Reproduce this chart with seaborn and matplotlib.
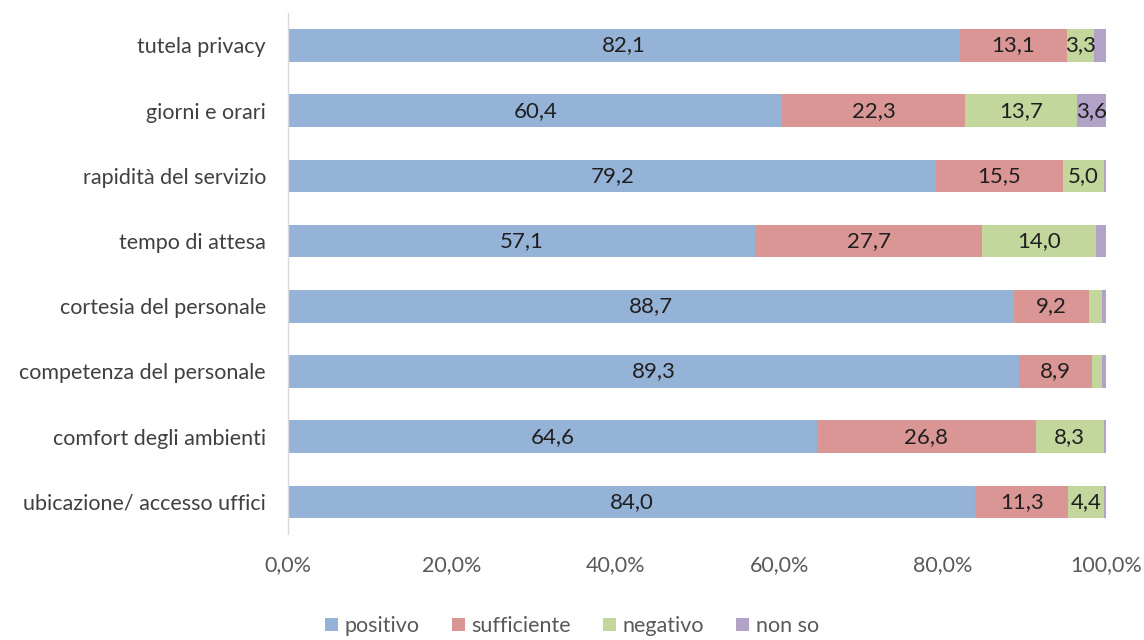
import numpy as np
import pandas as pd
import matplotlib
matplotlib.use("Agg")
import matplotlib.pyplot as plt
import seaborn as sns
from matplotlib.patches import Patch

categories = [
    "tutela privacy",
    "giorni e orari",
    "rapidità del servizio",
    "tempo di attesa",
    "cortesia del personale",
    "competenza del personale",
    "comfort degli ambienti",
    "ubicazione/ accesso uffici",
]
positivo = [82.1, 60.4, 79.2, 57.1, 88.7, 89.3, 64.6, 84.0]
sufficiente = [13.1, 22.3, 15.5, 27.7, 9.2, 8.9, 26.8, 11.3]
negativo = [3.3, 13.7, 5.0, 14.0, 1.6, 1.3, 8.3, 4.4]
non_so = [1.5, 3.6, 0.3, 1.2, 0.5, 0.5, 0.3, 0.3]

series_names = ["positivo", "sufficiente", "negativo", "non so"]
series_values = [positivo, sufficiente, negativo, non_so]
colors = ["#95B3D7", "#D99694", "#C3D69B", "#B3A2C7"]

sns.set_theme(style="white")
plt.rcParams["font.family"] = ["Lato", "DejaVu Sans"]

FS = 15.5

df = pd.DataFrame({"categoria": categories})
cum = np.zeros(len(categories))
cums = []
for vals in series_values:
    cum = cum + np.array(vals)
    cums.append(cum.copy())

fig = plt.figure(figsize=(11.44, 6.40), dpi=100)
ax = fig.add_axes([0.252, 0.165, 0.715, 0.815])

# stacked bars: draw cumulative totals from the outermost layer inwards
for name, c, col in reversed(list(zip(series_names, cums, colors))):
    d = df.assign(valore=c)
    sns.barplot(data=d, y="categoria", x="valore", color=col, orient="h",
                width=0.5, saturation=1, ax=ax, linewidth=0)

def fmt(v):
    return f"{v:.1f}".replace(".", ",")

for vals, c in zip(series_values, cums):
    for i, (v, total) in enumerate(zip(vals, c)):
        if v >= 3:
            ax.text(total - v / 2, i, fmt(v), ha="center", va="center",
                    fontsize=16, color="#1f1f1f")

ax.set_xlim(0, 100)
ax.set_xticks(np.arange(0, 101, 20))
ax.set_xticklabels([f"{t:.1f}%".replace(".", ",") for t in np.arange(0, 101, 20)],
                   fontsize=FS, color="#595959")
ax.tick_params(axis="x", pad=15, length=0)
ax.tick_params(axis="y", length=0, pad=16)
for lbl in ax.get_yticklabels():
    lbl.set_fontsize(FS)
    lbl.set_color("#404040")
ax.set_xlabel("")
ax.set_ylabel("")
for s in ["top", "right", "bottom"]:
    ax.spines[s].set_visible(False)
ax.spines["left"].set_color("#D9D9D9")
ax.spines["left"].set_linewidth(1.0)

handles = [Patch(facecolor=col, edgecolor="none") for col in colors]
fig.legend(handles, series_names, loc="lower center", ncol=4,
           bbox_to_anchor=(0.5, -0.024), frameon=False, fontsize=FS,
           handlelength=0.6, handleheight=0.6, handletextpad=0.3,
           columnspacing=1.5, labelcolor="#595959")

fig.savefig("out.png", dpi=100)
